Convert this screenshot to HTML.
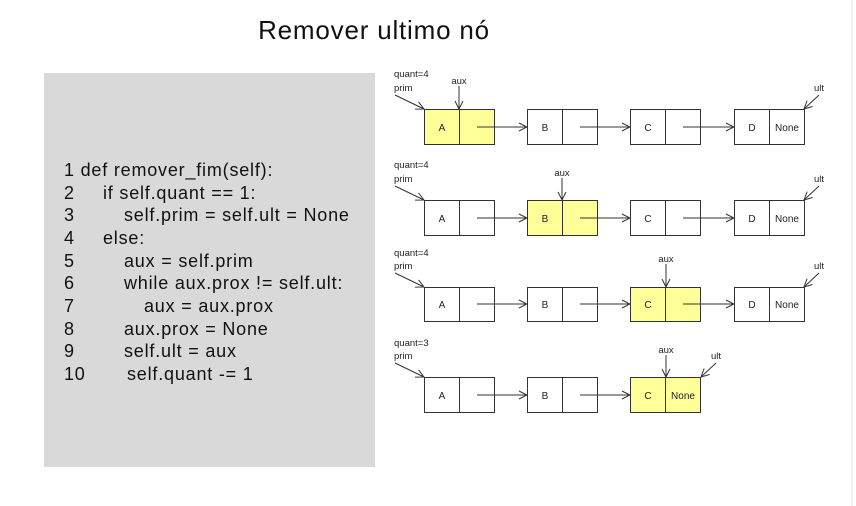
<!DOCTYPE html>
<html><head><meta charset="utf-8"><style>
html,body{margin:0;padding:0;background:#fff;width:856px;height:506px;overflow:hidden}
svg{display:block}
</style></head><body>
<svg width="856" height="506" xmlns="http://www.w3.org/2000/svg" font-family="Liberation Sans, sans-serif">
<defs><marker id="ah" markerWidth="10" markerHeight="10" refX="9" refY="5" orient="auto" markerUnits="userSpaceOnUse"><path d="M1,1 L9,5 L1,9" fill="none" stroke="#333" stroke-width="1"/></marker></defs>
<text x="374" y="39" font-size="26" letter-spacing="0.8" text-anchor="middle" fill="#111">Remover ultimo nó</text>
<rect x="44" y="73" width="331" height="394" fill="#d9d9d9"/>
<g font-size="18" letter-spacing="0.8" fill="#111">
<text x="64" y="176">1 def remover_fim(self):</text>
<text x="64" y="199">2</text><text x="103" y="199">if self.quant == 1:</text>
<text x="64" y="221">3</text><text x="124" y="221">self.prim = self.ult = None</text>
<text x="64" y="244">4</text><text x="103" y="244">else:</text>
<text x="64" y="267">5</text><text x="124" y="267">aux = self.prim</text>
<text x="64" y="289">6</text><text x="124" y="289">while aux.prox != self.ult:</text>
<text x="64" y="312">7</text><text x="144" y="312">aux = aux.prox</text>
<text x="64" y="335">8</text><text x="124" y="335">aux.prox = None</text>
<text x="64" y="357">9</text><text x="124" y="357">self.ult = aux</text>
<text x="64" y="380">10</text><text x="127" y="380">self.quant -= 1</text>
</g>
<line x1="852" y1="0" x2="852" y2="506" stroke="#e6e6e6"/>
<g font-size="9.5" fill="#222" stroke-width="1">
<text x="394" y="77">quant=4</text><text x="394" y="91">prim</text>
<line x1="395" y1="95" x2="424" y2="109" stroke="#333" marker-end="url(#ah)"/>
<text x="459" y="84" text-anchor="middle">aux</text>
<line x1="459" y1="86" x2="459" y2="109" stroke="#333" marker-end="url(#ah)"/>
<text x="819" y="91" text-anchor="middle">ult</text>
<line x1="819" y1="95" x2="804" y2="109" stroke="#333" marker-end="url(#ah)"/>
<text x="394" y="168">quant=4</text><text x="394" y="182">prim</text>
<line x1="395" y1="186" x2="424" y2="200" stroke="#333" marker-end="url(#ah)"/>
<text x="562" y="176" text-anchor="middle">aux</text>
<line x1="562" y1="178" x2="562" y2="200" stroke="#333" marker-end="url(#ah)"/>
<text x="819" y="182" text-anchor="middle">ult</text>
<line x1="819" y1="186" x2="804" y2="200" stroke="#333" marker-end="url(#ah)"/>
<text x="394" y="256">quant=4</text><text x="394" y="269">prim</text>
<line x1="395" y1="273" x2="424" y2="287" stroke="#333" marker-end="url(#ah)"/>
<text x="666" y="262" text-anchor="middle">aux</text>
<line x1="666" y1="264" x2="666" y2="287" stroke="#333" marker-end="url(#ah)"/>
<text x="819" y="269" text-anchor="middle">ult</text>
<line x1="819" y1="273" x2="804" y2="287" stroke="#333" marker-end="url(#ah)"/>
<text x="394" y="346">quant=3</text><text x="394" y="359">prim</text>
<line x1="395" y1="363" x2="424" y2="377" stroke="#333" marker-end="url(#ah)"/>
<text x="666" y="353" text-anchor="middle">aux</text>
<line x1="666" y1="355" x2="666" y2="377" stroke="#333" marker-end="url(#ah)"/>
<text x="716" y="359" text-anchor="middle">ult</text>
<line x1="716" y1="363" x2="701" y2="377" stroke="#333" marker-end="url(#ah)"/>
</g>
<g font-size="10" fill="#222" stroke="#333" stroke-width="1" text-anchor="middle">
<rect x="424.5" y="109.5" width="70" height="35" fill="#ffff99"/><line x1="459.5" y1="109" x2="459.5" y2="145"/>
<rect x="527.5" y="109.5" width="70" height="35" fill="#fff"/><line x1="562.5" y1="109" x2="562.5" y2="145"/>
<rect x="630.5" y="109.5" width="70" height="35" fill="#fff"/><line x1="665.5" y1="109" x2="665.5" y2="145"/>
<rect x="734.5" y="109.5" width="70" height="35" fill="#fff"/><line x1="769.5" y1="109" x2="769.5" y2="145"/>
<line x1="477" y1="127" x2="527" y2="127" marker-end="url(#ah)"/><line x1="580" y1="127" x2="630" y2="127" marker-end="url(#ah)"/><line x1="683" y1="127" x2="734" y2="127" marker-end="url(#ah)"/>
<g stroke="none"><text x="442" y="131">A</text><text x="545" y="131">B</text><text x="648" y="131">C</text><text x="752" y="131">D</text><text x="787" y="131">None</text></g>
<rect x="424.5" y="200.5" width="70" height="35" fill="#fff"/><line x1="459.5" y1="200" x2="459.5" y2="236"/>
<rect x="527.5" y="200.5" width="70" height="35" fill="#ffff99"/><line x1="562.5" y1="200" x2="562.5" y2="236"/>
<rect x="630.5" y="200.5" width="70" height="35" fill="#fff"/><line x1="665.5" y1="200" x2="665.5" y2="236"/>
<rect x="734.5" y="200.5" width="70" height="35" fill="#fff"/><line x1="769.5" y1="200" x2="769.5" y2="236"/>
<line x1="477" y1="218" x2="527" y2="218" marker-end="url(#ah)"/><line x1="580" y1="218" x2="630" y2="218" marker-end="url(#ah)"/><line x1="683" y1="218" x2="734" y2="218" marker-end="url(#ah)"/>
<g stroke="none"><text x="442" y="222">A</text><text x="545" y="222">B</text><text x="648" y="222">C</text><text x="752" y="222">D</text><text x="787" y="222">None</text></g>
<rect x="424.5" y="287.5" width="70" height="34" fill="#fff"/><line x1="459.5" y1="287" x2="459.5" y2="322"/>
<rect x="527.5" y="287.5" width="70" height="34" fill="#fff"/><line x1="562.5" y1="287" x2="562.5" y2="322"/>
<rect x="630.5" y="287.5" width="70" height="34" fill="#ffff99"/><line x1="665.5" y1="287" x2="665.5" y2="322"/>
<rect x="734.5" y="287.5" width="70" height="34" fill="#fff"/><line x1="769.5" y1="287" x2="769.5" y2="322"/>
<line x1="477" y1="304" x2="527" y2="304" marker-end="url(#ah)"/><line x1="580" y1="304" x2="630" y2="304" marker-end="url(#ah)"/><line x1="683" y1="304" x2="734" y2="304" marker-end="url(#ah)"/>
<g stroke="none"><text x="442" y="308">A</text><text x="545" y="308">B</text><text x="648" y="308">C</text><text x="752" y="308">D</text><text x="787" y="308">None</text></g>
<rect x="424.5" y="377.5" width="70" height="35" fill="#fff"/><line x1="459.5" y1="377" x2="459.5" y2="413"/>
<rect x="527.5" y="377.5" width="70" height="35" fill="#fff"/><line x1="562.5" y1="377" x2="562.5" y2="413"/>
<rect x="630.5" y="377.5" width="70" height="35" fill="#ffff99"/><line x1="665.5" y1="377" x2="665.5" y2="413"/>
<line x1="477" y1="395" x2="527" y2="395" marker-end="url(#ah)"/><line x1="580" y1="395" x2="630" y2="395" marker-end="url(#ah)"/>
<g stroke="none"><text x="442" y="399">A</text><text x="545" y="399">B</text><text x="648" y="399">C</text><text x="683" y="399">None</text></g>
</g>
</svg>
</body></html>
